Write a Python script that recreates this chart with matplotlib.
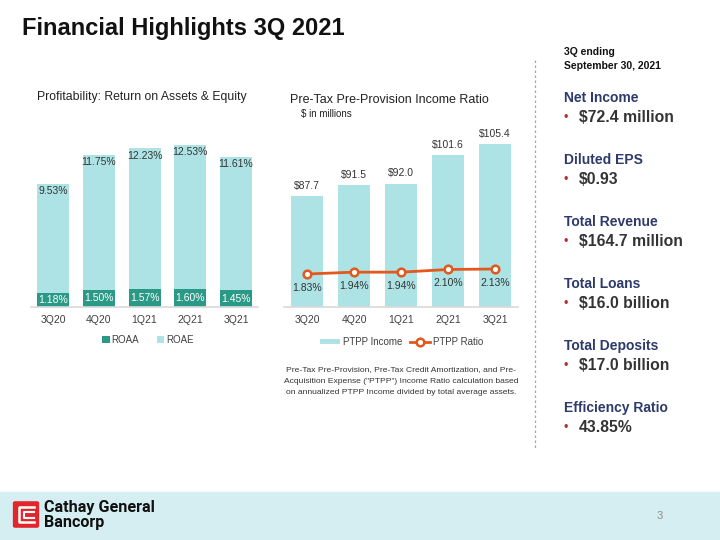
import matplotlib
matplotlib.use('Agg')
import matplotlib.pyplot as plt
from matplotlib.patches import Rectangle, FancyBboxPatch
from matplotlib.lines import Line2D
import numpy as np

plt.rcParams['font.family'] = ['Liberation Sans', 'DejaVu Sans']

# data
quarters = ['3Q20', '4Q20', '1Q21', '2Q21', '3Q21']
roaa = [1.18, 1.50, 1.57, 1.60, 1.45]
roae = [9.53, 11.75, 12.23, 12.53, 11.61]
ptpp_income = [87.7, 91.5, 92.0, 101.6, 105.4]
ptpp_ratio = [1.83, 1.94, 1.94, 2.10, 2.13]

highlights = [('Net Income', '$72.4 million'),
              ('Diluted EPS', '$0.93'),
              ('Total Revenue', '$164.7 million'),
              ('Total Loans', '$16.0 billion'),
              ('Total Deposits', '$17.0 billion'),
              ('Efficiency Ratio', '43.85%')]

footnote = ['Pre-Tax Pre-Provision, Pre-Tax Credit Amortization, and Pre-',
            'Acquisition Expense ("PTPP") Income Ratio calculation based',
            'on annualized PTPP Income divided by total average assets.']

light = '#ade3e5'
teal = '#2a9a86'
orange = '#e2581d'
navy = '#2d3a6b'
txt = '#333333'

W, H = 720, 540
fig = plt.figure(figsize=(7.2, 5.4), dpi=100)


def px_axes(left, top, right, bottom):
    # axes box given in pixel coordinates of the slide
    return fig.add_axes([left / W, 1 - bottom / H, (right - left) / W, (bottom - top) / H])


def fx(x):
    return x / W


def fy(y):
    return 1 - y / H


def style(ax):
    for s in ['top', 'right', 'left']:
        ax.spines[s].set_visible(False)
    ax.spines['bottom'].set_color('#d9d9d9')
    ax.spines['bottom'].set_linewidth(1.2)
    ax.set_yticks([])
    ax.tick_params(axis='x', length=0, pad=6, labelsize=7.5, labelcolor='#404040')


# title
fig.text(fx(22), fy(28), 'Financial Highlights 3Q 2021', fontsize=17, fontweight='bold',
         color='#111111', va='center', ha='left')

# ---- left chart: ROAA / ROAE
x = np.arange(len(quarters))
ax1 = px_axes(31.5, 123, 258, 307)
style(ax1)
ax1.bar(x, roaa, width=0.7, color=teal, label='ROAA')
ax1.bar(x, roae, width=0.7, bottom=roaa, color=light, label='ROAE')
ax1.set_xlim(-0.47, 4.48)
ax1.set_ylim(0, 16)
ax1.set_xticks(x)
ax1.set_xticklabels(quarters)
for i in range(len(quarters)):
    ax1.text(x[i], roaa[i] / 2, '%.2f%%' % roaa[i], ha='center', va='center',
             fontsize=7.5, color='white')
    ax1.annotate('%.2f%%' % roae[i], (x[i], roaa[i] + roae[i]), xytext=(0, -5.5),
                 textcoords='offset points', ha='center', va='center', fontsize=7.5, color=txt)
ax1.legend(loc='center', bbox_to_anchor=(0.514, -0.18), ncol=2, frameon=False, fontsize=7,
           handlelength=0.75, handleheight=0.75, handletextpad=0.15, columnspacing=1.9,
           labelcolor='#404040')
fig.text(fx(37), fy(97), 'Profitability: Return on Assets & Equity', fontsize=8.8,
         color='#222222', va='center')

# ---- middle chart: PTPP
ax2 = px_axes(283.5, 123, 517.6, 307)
style(ax2)
ax2.bar(x, ptpp_income, width=0.69, color=light, label='PTPP Income')
ax2.set_xlim(-0.5, 4.48)
ax2.set_ylim(50, 112.6)
ax2.set_xticks(x)
ax2.set_xticklabels(quarters)
for i in range(len(quarters)):
    ax2.annotate('$%.1f' % ptpp_income[i], (x[i], ptpp_income[i]), xytext=(0, 7.5),
                 textcoords='offset points', ha='center', va='center', fontsize=7.5, color=txt)
ax3 = ax2.twinx()
ax3.set_ylim(-0.146, 10.87)
ax3.axis('off')
ax3.plot(x, ptpp_ratio, color=orange, lw=2, marker='o', markersize=5.5,
         markerfacecolor='white', markeredgecolor=orange, markeredgewidth=1.8, label='PTPP Ratio')
for i in range(len(quarters)):
    ax3.annotate('%.2f%%' % ptpp_ratio[i], (x[i], ptpp_ratio[i]), xytext=(0, -10),
                 textcoords='offset points', ha='center', va='center', fontsize=7.5, color=txt)
h1, l1 = ax2.get_legend_handles_labels()
h2, l2 = ax3.get_legend_handles_labels()
ax2.legend(h1 + h2, l1 + l2, loc='center', bbox_to_anchor=(0.504, -0.19), ncol=2, frameon=False,
           fontsize=7, handlelength=2.1, handleheight=0.5, handletextpad=0.25,
           columnspacing=0.8, labelcolor='#404040')
fig.text(fx(290), fy(100), 'Pre-Tax Pre-Provision Income Ratio', fontsize=9, color='#222222',
         va='center')
fig.text(fx(301), fy(114), '$ in millions', fontsize=7, color='#222222', va='center')
for j, line in enumerate(footnote):
    fig.text(fx(401), fy(370 + j * 11.5), line, ha='center', va='center', fontsize=6.1,
             color='#333333')

# ---- right panel
fig.add_artist(Line2D([fx(535), fx(535)], [fy(60), fy(448)], color='#a6a6a6', lw=0.9,
                      linestyle=(0, (2, 2))))
fig.text(fx(564), fy(52), '3Q ending', fontsize=7.5, fontweight='bold', color='#111111',
         va='center')
fig.text(fx(564), fy(66), 'September 30, 2021', fontsize=7.5, fontweight='bold',
         color='#111111', va='center')
for k, (head, val) in enumerate(highlights):
    y0 = 98 + k * 62
    fig.text(fx(564), fy(y0), head, fontsize=10, fontweight='bold', color=navy, va='center')
    fig.text(fx(564), fy(y0 + 20), '\u2022', fontsize=9, color='#c0282d', va='center')
    fig.text(fx(579), fy(y0 + 20), val, fontsize=11.3, fontweight='bold', color=txt,
             va='center')

# ---- footer
fig.add_artist(Rectangle((0, 0), 1, 48 / H, transform=fig.transFigure, color='#d5eef2', zorder=0))
fig.add_artist(FancyBboxPatch((fx(15), fy(526)), 22 / W, 23 / H, transform=fig.transFigure,
                              boxstyle='round,pad=0.002', facecolor='#e3262b',
                              edgecolor='#e3262b', zorder=2))
fig.add_artist(Line2D([fx(34), fx(19), fx(19), fx(34)], [fy(507), fy(507), fy(522), fy(522)],
                      color='white', lw=1.8, zorder=3))
fig.add_artist(Line2D([fx(34), fx(24), fx(24), fx(34)], [fy(511.5), fy(511.5), fy(517.5), fy(517.5)],
                      color='white', lw=1.5, zorder=3))
fig.text(fx(44), fy(507.5), 'Cathay General', fontsize=11.6, fontweight='bold', color='#111111',
         va='center', family=['Roboto', 'DejaVu Sans'], zorder=3)
fig.text(fx(44), fy(522), 'Bancorp', fontsize=11.6, fontweight='bold', color='#111111',
         va='center', family=['Roboto', 'DejaVu Sans'], zorder=3)
fig.text(fx(660), fy(516), '3', fontsize=8, color='#8c8c8c', va='center', ha='center')

fig.savefig('out.png', dpi=100)
